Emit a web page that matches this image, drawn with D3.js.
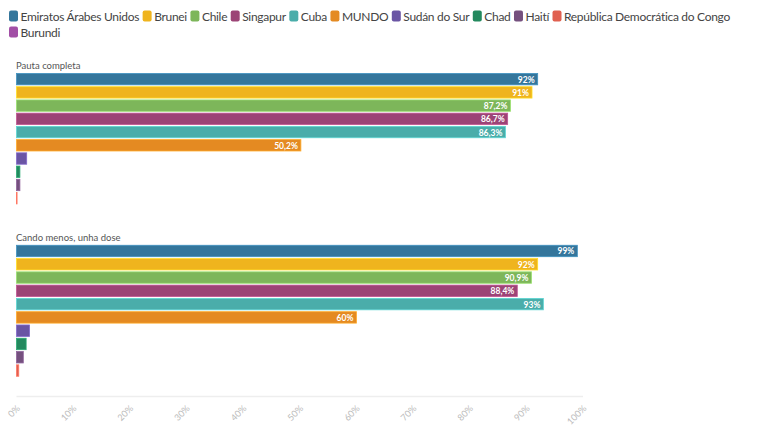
<!DOCTYPE html>
<html><head><meta charset="utf-8">
<script src="https://cdn.jsdelivr.net/npm/d3@7"></script>
<style>
html,body{margin:0;padding:0;background:#fff;}
svg{display:block;font-family:"Source Sans Pro",Lato,"Open Sans",sans-serif;}
</style></head>
<body>
<svg id="chart" width="768" height="432"></svg>
<script>
const countries = ["Emiratos Árabes Unidos","Brunei","Chile","Singapur","Cuba","MUNDO","Sudán do Sur","Chad","Haití","República Democrática do Congo","Burundi"];
const colors = ["#34769c","#efb41e","#7db65a","#9c4476","#4aadaa","#e48a22","#6a55a4","#23895e","#74507e","#e06050","#a24fa6"];
const sections = ["Pauta completa","Cando menos, unha dose"];
const pautaCompleta = [92, 91, 87.2, 86.7, 86.3, 50.2, 1.8, 0.6, 0.6, 0.1, 0];
const candoMenos = [99, 92, 90.9, 88.4, 93, 60, 2.3, 1.7, 1.2, 0.4, 0];
const valueLabelsPauta = ["92%","91%","87,2%","86,7%","86,3%","50,2%","","","","",""];
const valueLabelsCando = ["99%","92%","90,9%","88,4%","93%","60%","","","","",""];
const tickValues = [0,10,20,30,40,50,60,70,80,90,100];

const svg = d3.select("#chart");
const x = d3.scaleLinear().domain([0,100]).range([16.5,583]);
const color = d3.scaleOrdinal().domain(countries).range(colors);

// Legend (flow layout)
const legend = svg.append("g");
let lx = 9, ly = 16;
countries.forEach((c,i)=>{
  const g = legend.append("g");
  const t = g.append("text").text(c).attr("font-size",12).attr("letter-spacing",-0.3).attr("fill","#444").attr("dominant-baseline","central");
  const w = t.node().getComputedTextLength();
  if (lx + 12 + w > 760) { lx = 9; ly += 16; }
  g.attr("transform",`translate(${lx},${ly})`);
  g.insert("rect","text").attr("x",0).attr("y",-5.5).attr("width",9).attr("height",11).attr("rx",2).attr("fill",color(c));
  t.attr("x",11.5).attr("y",0.5);
  lx += 11.5 + w + 3.5;
});

const data = [pautaCompleta, candoMenos];
const labels = [valueLabelsPauta, valueLabelsCando];
const ranges = [[72.8,217.8],[244.6,390.2]];

sections.forEach((s,si)=>{
  const y = d3.scaleBand().domain(countries).range(ranges[si]).paddingInner(0.14).paddingOuter(0.05);
  const g = svg.append("g");
  g.append("text").attr("x",16).attr("y",ranges[si][0]-3.5).text(s).attr("font-size",9.5).attr("fill","#555");
  g.selectAll("rect.bar").data(countries).join("rect").attr("class","bar")
    .attr("x",x(0)).attr("y",d=>y(d))
    .attr("width",(d,i)=>Math.max(0,x(data[si][i])-x(0)))
    .attr("height",y.bandwidth())
    .attr("fill",d=>color(d))
    .attr("stroke",d=>d3.color(color(d)).brighter(0.6))
    .attr("stroke-width",0.8);
  g.selectAll("text.val").data(countries).join("text").attr("class","val")
    .attr("x",(d,i)=>x(data[si][i])-3)
    .attr("y",d=>y(d)+y.bandwidth()/2+0.5)
    .attr("text-anchor","end").attr("dominant-baseline","central")
    .attr("font-size",8.5).attr("font-weight","bold").attr("fill","#fff")
    .text((d,i)=>labels[si][i]);
});

// x axis
const axisG = svg.append("g");
axisG.append("line").attr("x1",x(0)).attr("x2",x(100)).attr("y1",396.5).attr("y2",396.5).attr("stroke","#eeeeee").attr("stroke-width",1.5);
axisG.selectAll("text").data(tickValues).join("text")
  .attr("transform",d=>`translate(${x(d)+4},${409}) rotate(-45)`)
  .attr("text-anchor","end").attr("font-size",9).attr("fill","#bbb")
  .text(d=>d+"%");
</script>
</body></html>
